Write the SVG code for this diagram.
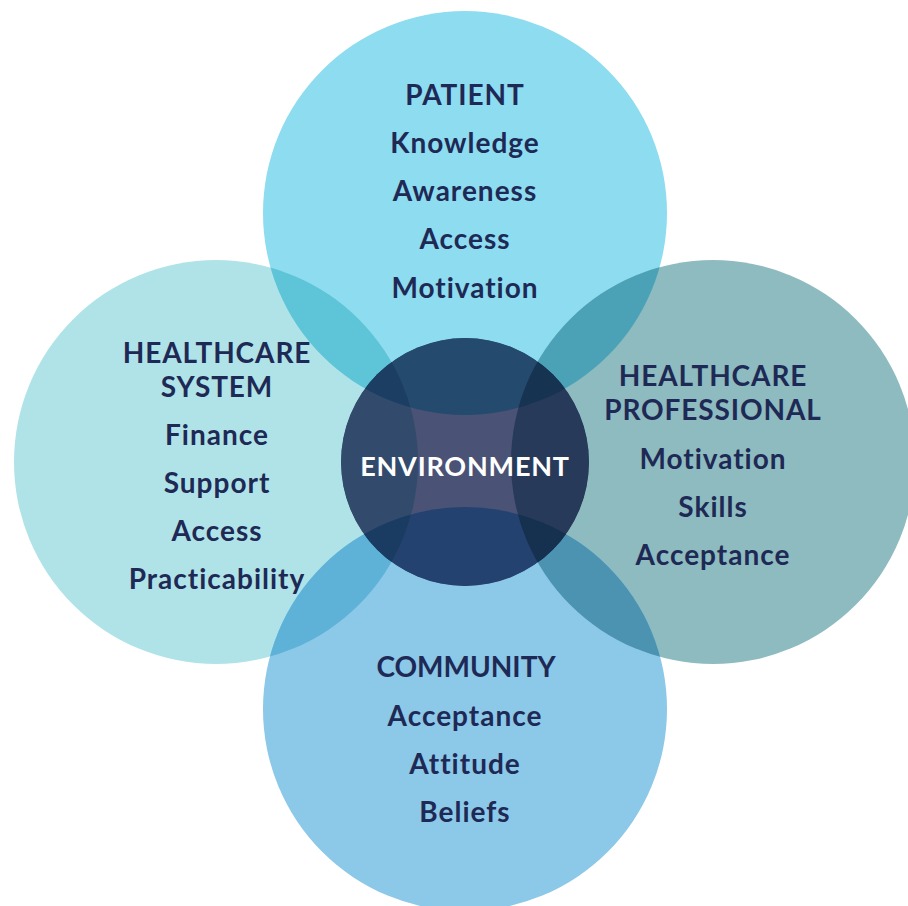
<svg xmlns="http://www.w3.org/2000/svg" width="908" height="906" viewBox="0 0 908 906">
<style>
.t{font-family:"Lato","Noto Sans",sans-serif;font-weight:700;font-size:28px;letter-spacing:1px;fill:#1e2a55;text-anchor:middle}
.h{letter-spacing:0.9px}
.w{fill:#ffffff;font-size:27px;letter-spacing:0.8px}
</style>
<defs>
<clipPath id="cT"><circle cx="465" cy="213" r="202"/></clipPath>
<clipPath id="cL"><circle cx="216" cy="462" r="202"/></clipPath>
<clipPath id="cR"><circle cx="713" cy="462" r="202"/></clipPath>
<clipPath id="cB"><circle cx="465" cy="709" r="202"/></clipPath>
<clipPath id="cC"><circle cx="465" cy="462" r="124"/></clipPath>
</defs>
<rect width="908" height="906" fill="#ffffff"/>
<g id="shapes">
<circle cx="465" cy="213" r="202" fill="#8ddcf0"/>
<circle cx="216" cy="462" r="202" fill="#b0e3e8"/>
<circle cx="713" cy="462" r="202" fill="#8dbbbf"/>
<circle cx="465" cy="709" r="202" fill="#8cc8e8"/>
<g clip-path="url(#cT)"><circle cx="216" cy="462" r="202" fill="#5ec4d8"/><circle cx="713" cy="462" r="202" fill="#4ba2b6"/></g>
<g clip-path="url(#cB)"><circle cx="216" cy="462" r="202" fill="#5eb2d8"/><circle cx="713" cy="462" r="202" fill="#4b93b0"/></g>
<g clip-path="url(#cC)">
<circle cx="465" cy="462" r="124" fill="#4a5275"/>
<circle cx="465" cy="213" r="202" fill="#244a6e"/>
<circle cx="465" cy="709" r="202" fill="#244270"/>
<circle cx="216" cy="462" r="202" fill="#324b6c"/>
<circle cx="713" cy="462" r="202" fill="#273a5a"/>
<g clip-path="url(#cT)"><circle cx="216" cy="462" r="202" fill="#1c3e62"/><circle cx="713" cy="462" r="202" fill="#163352"/></g>
<g clip-path="url(#cB)"><circle cx="216" cy="462" r="202" fill="#1a3c62"/><circle cx="713" cy="462" r="202" fill="#163050"/></g>
</g>
</g>
<g id="patient">
<text class="t h" x="465" y="105">PATIENT</text>
<text class="t" x="465" y="153">Knowledge</text>
<text class="t" x="465" y="201">Awareness</text>
<text class="t" x="465" y="249">Access</text>
<text class="t" x="465" y="298">Motivation</text>
</g>
<g id="healthcare-system">
<text class="t h" x="217" y="363">HEALTHCARE</text>
<text class="t h" x="217" y="397">SYSTEM</text>
<text class="t" x="217" y="445">Finance</text>
<text class="t" x="217" y="493">Support</text>
<text class="t" x="217" y="541">Access</text>
<text class="t" x="217" y="589">Practicability</text>
</g>
<g id="healthcare-professional">
<text class="t h" x="713" y="386">HEALTHCARE</text>
<text class="t h" x="713" y="420">PROFESSIONAL</text>
<text class="t" x="713" y="469">Motivation</text>
<text class="t" x="713" y="517">Skills</text>
<text class="t" x="713" y="565">Acceptance</text>
</g>
<g id="community">
<text class="t" x="466" y="677" style="letter-spacing:0px">COMMUNITY</text>
<text class="t" x="465" y="726">Acceptance</text>
<text class="t" x="465" y="774">Attitude</text>
<text class="t" x="465" y="822">Beliefs</text>
</g>
<g id="environment">
<text class="t w" x="465" y="476">ENVIRONMENT</text>
</g>
<g id="connectors"/>
</svg>
